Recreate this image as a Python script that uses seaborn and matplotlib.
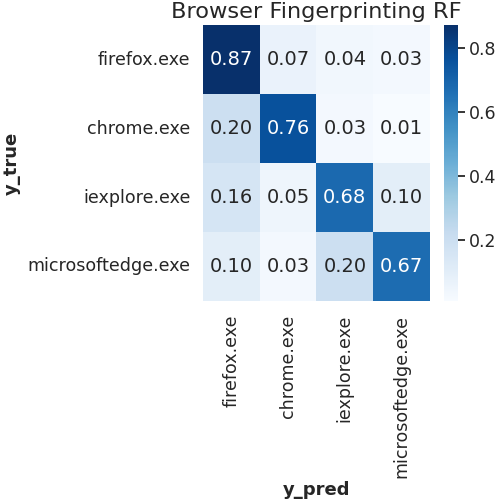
import numpy as np
import pandas as pd
import seaborn as sns
import matplotlib
matplotlib.use("Agg")
import matplotlib.pyplot as plt

labels = ["firefox.exe", "chrome.exe", "iexplore.exe", "microsoftedge.exe"]
firefox_row = [0.87, 0.07, 0.04, 0.03]
chrome_row = [0.20, 0.76, 0.03, 0.01]
iexplore_row = [0.16, 0.05, 0.68, 0.10]
edge_row = [0.10, 0.03, 0.20, 0.67]

cm = pd.DataFrame([firefox_row, chrome_row, iexplore_row, edge_row],
                  index=labels, columns=labels)

sns.set_theme(style="white")

fig = plt.figure(figsize=(4.96, 5.04), dpi=100)
ax = fig.add_axes([0.409, 0.403, 0.458, 0.547])
cax = fig.add_axes([0.895, 0.403, 0.028, 0.547])

sns.heatmap(cm, annot=True, fmt=".2f", cmap="Blues", ax=ax, cbar_ax=cax,
            annot_kws={"size": 14})

ax.set_title("Browser Fingerprinting RF", fontsize=16.2, color="#262626", pad=5)
ax.set_xlabel("y_pred", fontsize=13, fontweight="bold")
ax.set_ylabel("y_true", fontsize=13, fontweight="bold")
ax.xaxis.set_label_coords(0.5, -0.655)
ax.yaxis.set_label_coords(-0.80, 0.5)
ax.tick_params(axis="x", labelsize=12.6, rotation=90, pad=4)
ax.tick_params(axis="y", labelsize=12.6, rotation=0, pad=3)

cax.yaxis.set_ticks([0.2, 0.4, 0.6, 0.8])
cax.tick_params(axis="y", right=True, length=5, width=1.3, labelsize=12.5,
                color="#262626", pad=3)

fig.savefig("out.png", dpi=100)
